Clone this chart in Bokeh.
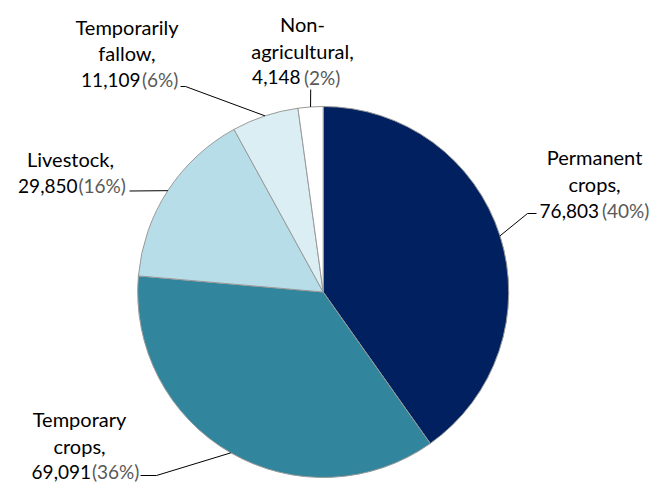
import math
from bokeh.plotting import figure
from bokeh.models import Range1d
from bokeh.core.properties import value
from bokeh.embed import file_html
from bokeh.resources import INLINE

# ---- data ----
categories = ["Permanent crops", "Temporary crops", "Livestock",
              "Temporarily fallow", "Non-agricultural"]
areas = [76803, 69091, 29850, 11109, 4148]
value_labels = ["76,803", "69,091", "29,850", "11,109", "4,148"]
pct_labels = ["(40%)", "(36%)", "(16%)", "(6%)", "(2%)"]
name_lines = [["Permanent", "crops,"], ["Temporary", "crops,"], ["Livestock,"],
              ["Temporarily", "fallow,"], ["Non-", "agricultural,"]]

# ---- style / layout ----
colors = ["#002060", "#31859C", "#B7DEE8", "#DAEEF3", "#FFFFFF"]
W, H = 668, 483
BASE_FIX = 7  # renderer draws alphabetic baseline lower than requested


def fx(sx):
    return sx


def fy(sy):
    return H - sy


CX, CY, R = 322.7, 291.5, 185.5
FONT = value("Lato")
NAME_SIZE = "20px"
NUM_SIZE = "19px"

# per-slice label layout (reference pixel coords): name centre x, baselines,
# split x (number right edge, pct left edge), leader path from label side
layout = [
    dict(cx=594, base=[163, 190, 217], nr=598.5, pl=601.5, lead=[(536, 213), (527, 213)]),
    dict(cx=79, base=[425, 452, 478], nr=90.5, pl=91.5, lead=[(140, 475), (156, 475)]),
    dict(cx=70, base=[165.5, 192], nr=77, pl=78, lead=[(129, 190.5)]),
    dict(cx=126.5, base=[33, 59.5, 86], nr=140, pl=141.5, lead=[(180, 86), (185, 86)]),
    dict(cx=302, base=[30, 57, 83.5], nr=300, pl=303.5, lead=[(310.2, 89)]),
]

total = float(sum(areas))
starts, ends, mids = [], [], []
acc = 0.0
for a in areas:
    s = math.pi / 2 - 2 * math.pi * acc / total
    acc += a
    e = math.pi / 2 - 2 * math.pi * acc / total
    starts.append(s)
    ends.append(e)
    mids.append((s + e) / 2)

p = figure(width=W, height=H, output_backend="svg", toolbar_location=None,
           x_range=Range1d(0, W), y_range=Range1d(0, H), min_border=0,
           x_axis_type=None, y_axis_type=None)
p.grid.visible = False
p.outline_line_color = None
p.background_fill_color = "white"
p.border_fill_color = "white"

p.wedge(x=[fx(CX)] * len(areas), y=[fy(CY)] * len(areas), radius=R,
        start_angle=starts, end_angle=ends, direction="clock",
        fill_color=colors, line_color="#999999", line_width=1)

# leader lines
for i, lay in enumerate(layout):
    ex = CX + R * math.cos(mids[i])
    ey = CY - R * math.sin(mids[i])
    pts = lay["lead"] + [(ex, ey)]
    p.line([fx(x) for x, _ in pts], [fy(y) for _, y in pts],
           line_color="#000000", line_width=1)

# labels
for i, lay in enumerate(layout):
    names = name_lines[i]
    for j, nm in enumerate(names):
        p.text(x=[fx(lay["cx"])], y=[fy(lay["base"][j] - BASE_FIX)], text=[nm],
               text_align="center", text_baseline="alphabetic",
               text_font=FONT, text_font_size=NAME_SIZE, text_color="#000000")
    yb = fy(lay["base"][len(names)] - BASE_FIX)
    p.text(x=[fx(lay["nr"])], y=[yb], text=[value_labels[i]],
           text_align="right", text_baseline="alphabetic",
           text_font=FONT, text_font_size=NUM_SIZE, text_color="#000000")
    p.text(x=[fx(lay["pl"])], y=[yb], text=[pct_labels[i]],
           text_align="left", text_baseline="alphabetic",
           text_font=FONT, text_font_size=NUM_SIZE, text_color="#595959")

open("out.html", "w").write(file_html(p, INLINE))
